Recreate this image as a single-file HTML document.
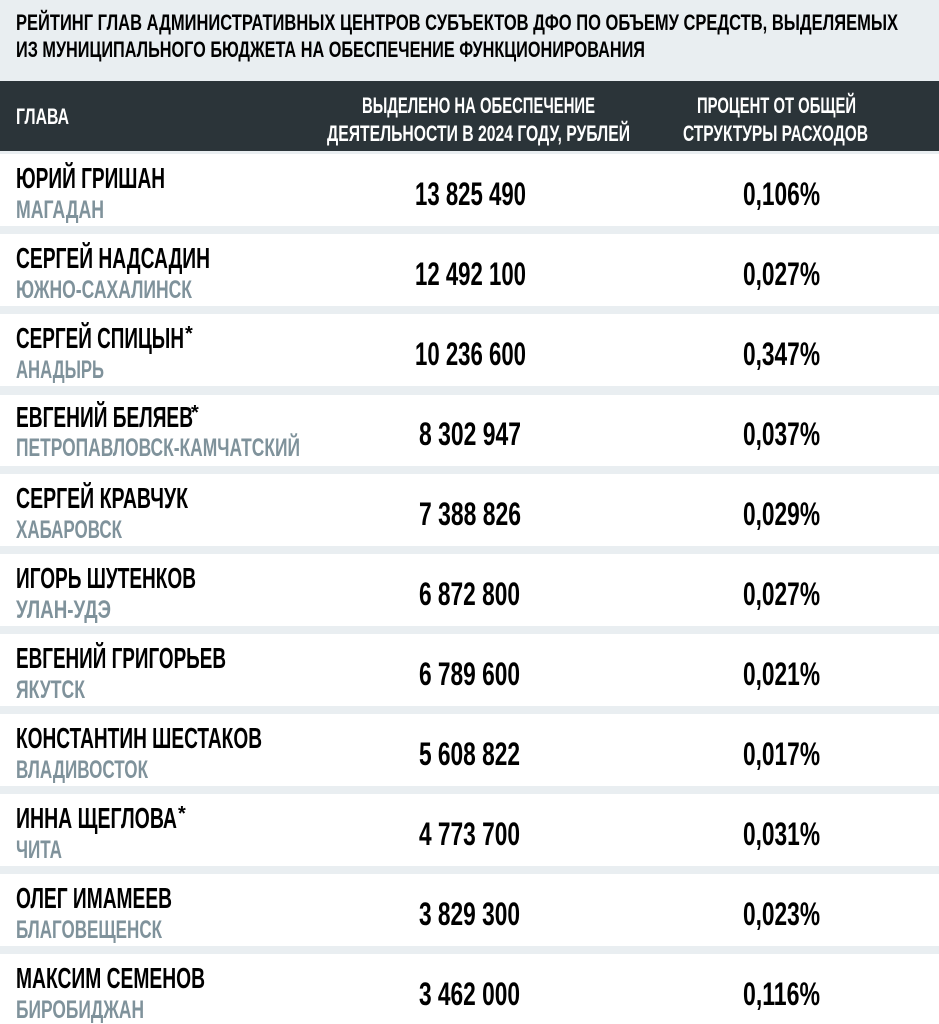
<!DOCTYPE html>
<html><head><meta charset="utf-8"><style>
html,body{margin:0;padding:0;background:#fff}
svg{display:block}
text{font-family:"Liberation Sans",sans-serif;font-weight:bold}
</style></head><body>
<svg width="939" height="1024" viewBox="0 0 939 1024" xmlns="http://www.w3.org/2000/svg">
<rect x="0" y="0" width="939" height="1024" fill="#e9eef1"/>
<text x="16" y="30" font-size="22" fill="#000" textLength="882" lengthAdjust="spacingAndGlyphs">РЕЙТИНГ ГЛАВ АДМИНИСТРАТИВНЫХ ЦЕНТРОВ СУБЪЕКТОВ ДФО ПО ОБЪЕМУ СРЕДСТВ, ВЫДЕЛЯЕМЫХ</text>
<text x="16" y="57" font-size="22" fill="#000" textLength="629" lengthAdjust="spacingAndGlyphs">ИЗ МУНИЦИПАЛЬНОГО БЮДЖЕТА НА ОБЕСПЕЧЕНИЕ ФУНКЦИОНИРОВАНИЯ</text>
<rect x="0" y="81" width="939" height="70" fill="#2b3439"/>
<text x="16" y="124" font-size="22" fill="#fff" textLength="53" lengthAdjust="spacingAndGlyphs">ГЛАВА</text>
<text x="362" y="113" font-size="22" fill="#fff" textLength="233" lengthAdjust="spacingAndGlyphs">ВЫДЕЛЕНО НА ОБЕСПЕЧЕНИЕ</text>
<text x="327" y="141" font-size="22" fill="#fff" textLength="303" lengthAdjust="spacingAndGlyphs">ДЕЯТЕЛЬНОСТИ В 2024 ГОДУ, РУБЛЕЙ</text>
<text x="697" y="113" font-size="22" fill="#fff" textLength="159" lengthAdjust="spacingAndGlyphs">ПРОЦЕНТ ОТ ОБЩЕЙ</text>
<text x="683" y="141" font-size="22" fill="#fff" textLength="185" lengthAdjust="spacingAndGlyphs">СТРУКТУРЫ РАСХОДОВ</text>

<g id="rows">
<!-- row 1 T=153 -->
<rect x="0" y="154" width="939" height="72" fill="#fff"/>
<text x="16" y="188" font-size="29" textLength="149" lengthAdjust="spacingAndGlyphs">ЮРИЙ ГРИШАН</text>
<text x="16" y="218" font-size="25" fill="#7f929b" textLength="88" lengthAdjust="spacingAndGlyphs">МАГАДАН</text>
<text x="415" y="205" font-size="32" textLength="111" lengthAdjust="spacingAndGlyphs">13 825 490</text>
<text x="743" y="205" font-size="32" textLength="77" lengthAdjust="spacingAndGlyphs">0,106%</text>
<!-- row 2 T=233 -->
<rect x="0" y="234" width="939" height="72" fill="#fff"/>
<text x="16" y="268" font-size="29" textLength="194" lengthAdjust="spacingAndGlyphs">СЕРГЕЙ НАДСАДИН</text>
<text x="16" y="298" font-size="25" fill="#7f929b" textLength="176" lengthAdjust="spacingAndGlyphs">ЮЖНО-САХАЛИНСК</text>
<text x="415" y="285" font-size="32" textLength="111" lengthAdjust="spacingAndGlyphs">12 492 100</text>
<text x="743" y="285" font-size="32" textLength="77" lengthAdjust="spacingAndGlyphs">0,027%</text>
<!-- row 3 T=313 -->
<rect x="0" y="314" width="939" height="72" fill="#fff"/>
<text x="16" y="348" font-size="29" textLength="168" lengthAdjust="spacingAndGlyphs">СЕРГЕЙ СПИЦЫН</text>
<text x="185" y="340" font-size="20">*</text>
<text x="16" y="378" font-size="25" fill="#7f929b" textLength="88" lengthAdjust="spacingAndGlyphs">АНАДЫРЬ</text>
<text x="415" y="365" font-size="32" textLength="111" lengthAdjust="spacingAndGlyphs">10 236 600</text>
<text x="743" y="365" font-size="32" textLength="77" lengthAdjust="spacingAndGlyphs">0,347%</text>
<!-- row 4 T=393 -->
<rect x="0" y="395" width="939" height="71" fill="#fff"/>
<text x="16" y="427" font-size="29" textLength="177" lengthAdjust="spacingAndGlyphs">ЕВГЕНИЙ БЕЛЯЕВ</text>
<text x="191" y="419" font-size="20">*</text>
<text x="16" y="456" font-size="25" fill="#7f929b" textLength="284" lengthAdjust="spacingAndGlyphs">ПЕТРОПАВЛОВСК-КАМЧАТСКИЙ</text>
<text x="419" y="445" font-size="32" textLength="102" lengthAdjust="spacingAndGlyphs">8 302 947</text>
<text x="743" y="445" font-size="32" textLength="77" lengthAdjust="spacingAndGlyphs">0,037%</text>
<!-- row 5 T=473 -->
<rect x="0" y="474" width="939" height="72" fill="#fff"/>
<text x="16" y="508" font-size="29" textLength="172" lengthAdjust="spacingAndGlyphs">СЕРГЕЙ КРАВЧУК</text>
<text x="16" y="538" font-size="25" fill="#7f929b" textLength="106" lengthAdjust="spacingAndGlyphs">ХАБАРОВСК</text>
<text x="419" y="525" font-size="32" textLength="102" lengthAdjust="spacingAndGlyphs">7 388 826</text>
<text x="743" y="525" font-size="32" textLength="77" lengthAdjust="spacingAndGlyphs">0,029%</text>
<!-- row 6 T=553 -->
<rect x="0" y="554" width="939" height="72" fill="#fff"/>
<text x="16" y="588" font-size="29" textLength="180" lengthAdjust="spacingAndGlyphs">ИГОРЬ ШУТЕНКОВ</text>
<text x="16" y="618" font-size="25" fill="#7f929b" textLength="95" lengthAdjust="spacingAndGlyphs">УЛАН-УДЭ</text>
<text x="419" y="605" font-size="32" textLength="101" lengthAdjust="spacingAndGlyphs">6 872 800</text>
<text x="743" y="605" font-size="32" textLength="77" lengthAdjust="spacingAndGlyphs">0,027%</text>
<!-- row 7 T=633 -->
<rect x="0" y="634" width="939" height="72" fill="#fff"/>
<text x="16" y="668" font-size="29" textLength="210" lengthAdjust="spacingAndGlyphs">ЕВГЕНИЙ ГРИГОРЬЕВ</text>
<text x="16" y="698" font-size="25" fill="#7f929b" textLength="69" lengthAdjust="spacingAndGlyphs">ЯКУТСК</text>
<text x="419" y="685" font-size="32" textLength="101" lengthAdjust="spacingAndGlyphs">6 789 600</text>
<text x="743" y="685" font-size="32" textLength="77" lengthAdjust="spacingAndGlyphs">0,021%</text>
<!-- row 8 T=713 -->
<rect x="0" y="714" width="939" height="72" fill="#fff"/>
<text x="16" y="748" font-size="29" textLength="246" lengthAdjust="spacingAndGlyphs">КОНСТАНТИН ШЕСТАКОВ</text>
<text x="16" y="778" font-size="25" fill="#7f929b" textLength="132" lengthAdjust="spacingAndGlyphs">ВЛАДИВОСТОК</text>
<text x="419" y="765" font-size="32" textLength="101" lengthAdjust="spacingAndGlyphs">5 608 822</text>
<text x="743" y="765" font-size="32" textLength="77" lengthAdjust="spacingAndGlyphs">0,017%</text>
<!-- row 9 T=793 -->
<rect x="0" y="794" width="939" height="72" fill="#fff"/>
<text x="16" y="828" font-size="29" textLength="161" lengthAdjust="spacingAndGlyphs">ИННА ЩЕГЛОВА</text>
<text x="178" y="820" font-size="20">*</text>
<text x="16" y="858" font-size="25" fill="#7f929b" textLength="46" lengthAdjust="spacingAndGlyphs">ЧИТА</text>
<text x="419" y="845" font-size="32" textLength="101" lengthAdjust="spacingAndGlyphs">4 773 700</text>
<text x="743" y="845" font-size="32" textLength="77" lengthAdjust="spacingAndGlyphs">0,031%</text>
<!-- row 10 T=873 -->
<rect x="0" y="874" width="939" height="72" fill="#fff"/>
<text x="16" y="908" font-size="29" textLength="156" lengthAdjust="spacingAndGlyphs">ОЛЕГ ИМАМЕЕВ</text>
<text x="16" y="938" font-size="25" fill="#7f929b" textLength="146" lengthAdjust="spacingAndGlyphs">БЛАГОВЕЩЕНСК</text>
<text x="419" y="925" font-size="32" textLength="101" lengthAdjust="spacingAndGlyphs">3 829 300</text>
<text x="743" y="925" font-size="32" textLength="77" lengthAdjust="spacingAndGlyphs">0,023%</text>
<!-- row 11 T=953 -->
<rect x="0" y="954" width="939" height="70" fill="#fff"/>
<text x="16" y="988" font-size="29" textLength="189" lengthAdjust="spacingAndGlyphs">МАКСИМ СЕМЕНОВ</text>
<text x="16" y="1018" font-size="25" fill="#7f929b" textLength="128" lengthAdjust="spacingAndGlyphs">БИРОБИДЖАН</text>
<text x="419" y="1005" font-size="32" textLength="101" lengthAdjust="spacingAndGlyphs">3 462 000</text>
<text x="743" y="1005" font-size="32" textLength="77" lengthAdjust="spacingAndGlyphs">0,116%</text>
</g>
</svg>
</body></html>
